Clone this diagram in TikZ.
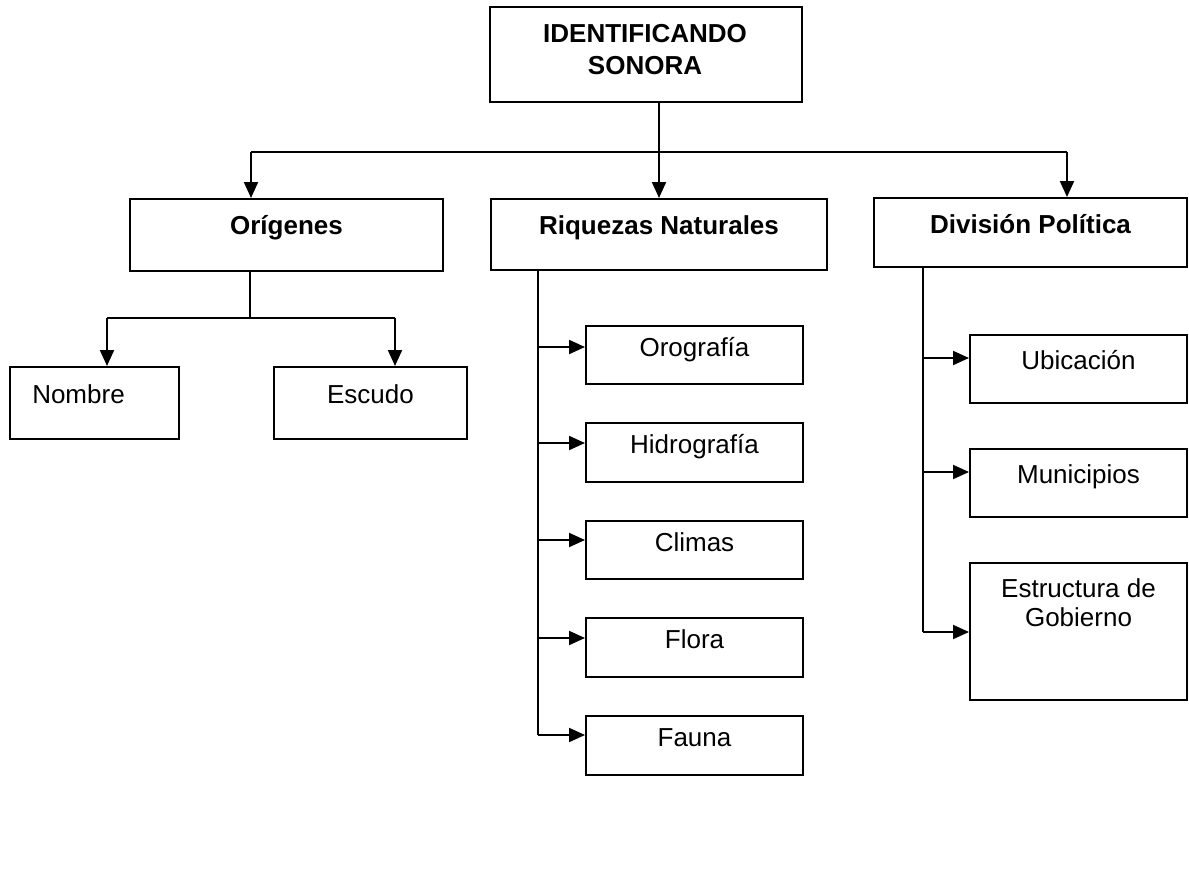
\documentclass[tikz,border=0pt]{standalone}
\usepackage{fontspec}
\setmainfont{Liberation Sans}
\usetikzlibrary{arrows.meta,fit}
\begin{document}
\begin{tikzpicture}[x=0.75pt,y=-0.75pt,
  box/.style={draw, line width=1.5pt, rectangle, inner sep=0pt},
  txt/.style={font=\fontsize{19.5pt}{23pt}\selectfont, inner sep=0pt, anchor=base},
  btxt/.style={txt, font=\fontsize{19.5pt}{23pt}\selectfont\bfseries},
  conn/.style={line width=1.5pt},
  arr/.style={line width=1.5pt, -{Triangle[length=12pt,width=10.5pt]}}]
\useasboundingbox (0,0) rectangle (1189,893);
% boxes
\node[box, fit={(490,7) (802,102)}] (top) {};
\node[box, fit={(130,199) (443,271)}] (orig) {};
\node[box, fit={(491,199) (827,270)}] (riq) {};
\node[box, fit={(874,198) (1187,267)}] (div) {};
\node[box, fit={(10,367) (179,439)}] (nom) {};
\node[box, fit={(274,367) (467,439)}] (esc) {};
\node[box, fit={(586,326) (803,384)}] (oro) {};
\node[box, fit={(586,423) (803,482)}] (hid) {};
\node[box, fit={(586,521) (803,579)}] (cli) {};
\node[box, fit={(586,618) (803,677)}] (flo) {};
\node[box, fit={(586,716) (803,775)}] (fau) {};
\node[box, fit={(970,335) (1187,403)}] (ubi) {};
\node[box, fit={(970,449) (1187,517)}] (mun) {};
\node[box, fit={(970,563) (1187,700)}] (est) {};
% texts
\node[btxt, align=center, font=\fontsize{19.5pt}{23.5pt}\selectfont\bfseries] (t-top) at (645,74) {IDENTIFICANDO\\SONORA};
\node[btxt] (t-orig) at (286.5,234) {Orígenes};
\node[btxt] (t-riq) at (659,234) {Riquezas Naturales};
\node[btxt] (t-div) at (1030.5,233) {División Política};
\node[txt, anchor=base west] (t-nom) at (32,403) {Nombre};
\node[txt] (t-esc) at (370.5,403) {Escudo};
\node[txt] (t-oro) at (694.5,356) {Orografía};
\node[txt] (t-hid) at (694.5,453) {Hidrografía};
\node[txt] (t-cli) at (694.5,551) {Climas};
\node[txt] (t-flo) at (694.5,648) {Flora};
\node[txt] (t-fau) at (694.5,746) {Fauna};
\node[txt] (t-ubi) at (1078.5,369) {Ubicación};
\node[txt] (t-mun) at (1078.5,483) {Municipios};
\node[txt, align=center, font=\fontsize{19.5pt}{21.75pt}\selectfont] (t-est) at (1078.5,626) {Estructura de\\Gobierno};
% connector coordinates
\coordinate (busL) at (251,152);
\coordinate (busR) at (1067,152);
\coordinate (oj) at (250,318);
\coordinate (ojL) at (107,318);
\coordinate (ojR) at (395,318);
\coordinate (rs) at (538,270);
\coordinate (r1) at (538,347);
\coordinate (r2) at (538,443);
\coordinate (r3) at (538,540);
\coordinate (r4) at (538,638);
\coordinate (r5) at (538,735);
\coordinate (ds) at (923,267);
\coordinate (d1) at (923,358);
\coordinate (d2) at (923,472);
\coordinate (d3) at (923,632);
% top level
\draw[conn] (top.south -| riq.north) -- (busL -| riq.north);
\draw[conn] (busL) -- (busR);
\draw[arr] (busL) -- (busL |- orig.north);
\draw[arr] (busL -| riq.north) -- (riq.north);
\draw[arr] (busR) -- (busR |- div.north);
% origenes
\draw[conn] (oj |- orig.south) -- (oj);
\draw[conn] (ojL) -- (ojR);
\draw[arr] (ojL) -- (ojL |- nom.north);
\draw[arr] (ojR) -- (ojR |- esc.north);
% riquezas
\draw[conn] (rs |- riq.south) -- (r5);
\draw[arr] (r1) -- (r1 -| oro.west);
\draw[arr] (r2) -- (r2 -| hid.west);
\draw[arr] (r3) -- (r3 -| cli.west);
\draw[arr] (r4) -- (r4 -| flo.west);
\draw[arr] (r5) -- (r5 -| fau.west);
% division
\draw[conn] (ds |- div.south) -- (d3);
\draw[arr] (d1) -- (d1 -| ubi.west);
\draw[arr] (d2) -- (d2 -| mun.west);
\draw[arr] (d3) -- (d3 -| est.west);
\end{tikzpicture}
\end{document}
